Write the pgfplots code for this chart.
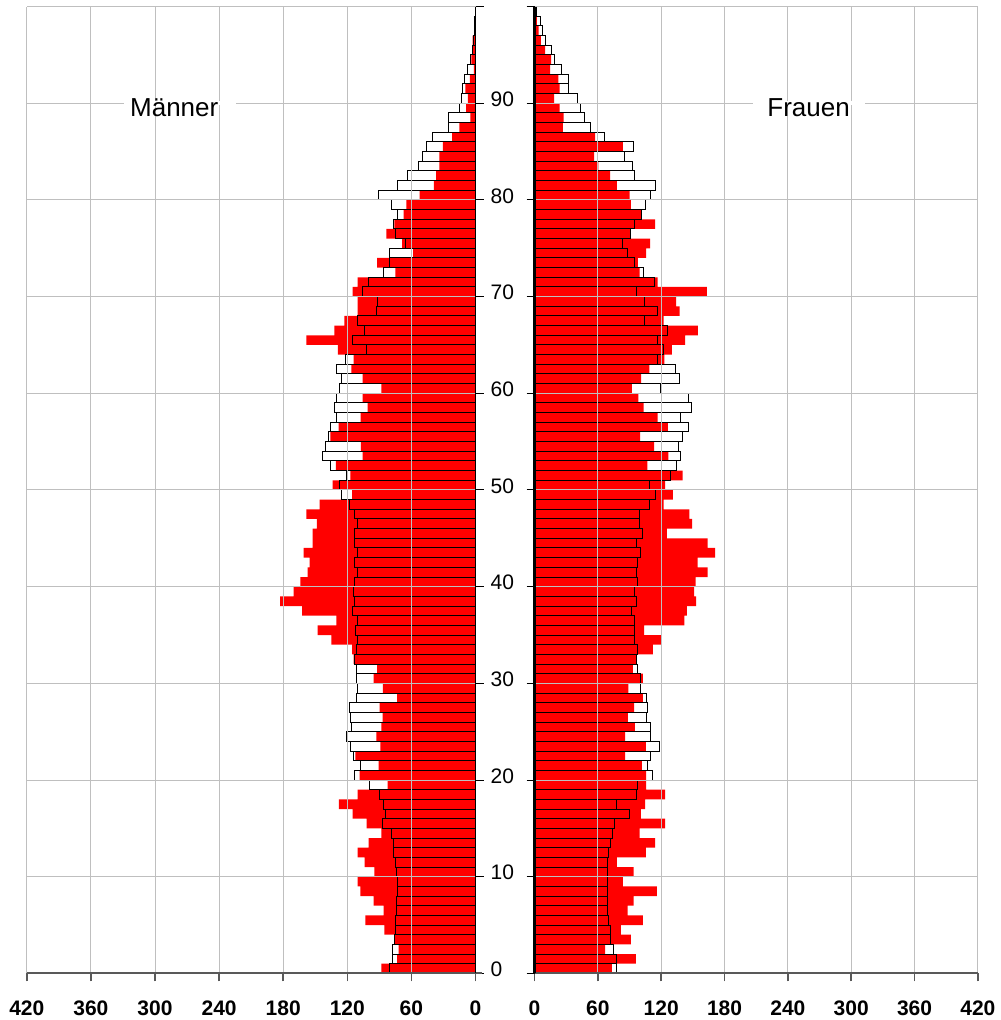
\documentclass[border=0pt]{standalone}
\usepackage{pgfplots}
\usepackage{pgfplotstable}
\pgfplotsset{compat=1.18}
\usepackage{fontspec}
\setmainfont{Liberation Sans}

% age, Maenner (outline, red), Frauen (outline, red)
\pgfplotstableread{
age mO mR wO wR
0 80.3 88 78 73.3
1 77.5 73.4 78 96
2 77.5 71.9 74.8 67
3 75.6 75.6 71.7 91.3
4 74.7 85.3 71.7 81.8
5 74.7 103 70.4 102.6
6 73.8 86 69.5 88.1
7 73.8 95.3 69.5 93.8
8 72.8 107.8 69.5 115.9
9 72.8 110.3 69.5 83.7
10 73.8 94.7 69.5 93.8
11 74.7 103.8 69.5 78
12 76.6 110.3 70.4 105.5
13 77.2 100 72.3 114.3
14 79 88 74.2 99.5
15 86.6 101.9 75.8 123.8
16 83.8 115 90 100.7
17 86 128 78 104.8
18 89.7 110.3 96.3 123.8
19 99 82.2 97.9 105.8
20 112.8 108.4 111.8 105.8
21 107.2 90.6 107.4 101.7
22 114 112.5 110.2 85.9
23 116.6 89 118.1 105.5
24 120.3 92.8 110.2 85.9
25 116 88 110.2 95
26 116.6 86.9 105.8 88.4
27 117.8 89.7 107 94.4
28 111.6 73.4 105.8 102.6
29 110.3 86.6 100.7 89
30 111.6 95.3 100.1 102.6
31 111.6 92.2 97.6 93.1
32 112.8 114 96.3 96.3
33 111.6 115.6 97.6 112
34 110 135 95 119.7
35 111.9 147.8 95 103.9
36 110.3 130.3 94.4 142
37 114.7 162.2 92.2 144.3
38 113.1 182.8 96.3 153.1
39 114 170.3 95 151.2
40 113.4 164 97.6 152.5
41 110.3 157.2 96.3 163.9
42 112.8 155.3 97.6 154.4
43 110 160.9 100.1 171.1
44 112.8 152.5 96.3 163.9
45 112.8 152.5 102.3 125.4
46 110 148.4 99.5 149.4
47 113.4 158.4 99.5 146.8
48 117.8 145.9 108.9 122.2
49 125.3 115.6 114.9 131
50 127.2 133.8 108.9 123.8
51 120.3 117.2 128.5 140.2
52 135.3 130.6 134.8 107
53 143.4 105.6 138 126.9
54 140 107.2 136.4 113.4
55 137.2 135.9 140.2 100.1
56 135.3 128.1 145.9 126.3
57 129.7 107.5 138 116.5
58 131.6 100.9 149 103.3
59 129.7 105.6 145.9 98.5
60 126.9 88.1 119.7 92.2
61 125.6 105.6 137 101
62 129.7 116.3 133.9 108.9
63 121.9 114.1 116.8 123.1
64 101.9 128.8 122.2 130.1
65 114.7 158.4 116.5 142.7
66 103.8 132.2 126 154.7
67 110.3 122.8 104.2 122.2
68 92.8 110.3 116.8 137.4
69 92.2 110.3 104.2 134.2
70 105.6 115 96.3 163.2
71 100 110.3 113.4 116.5
72 85.9 75 103.3 99.5
73 80.3 92.2 94.4 97.9
74 80.3 58.4 88.4 105.8
75 65.6 68.8 83.4 109.6
76 74.7 83.4 91.3 91.3
77 77.2 75.9 94.4 114.3
78 72.8 67.2 101.4 101.4
79 79 64.7 105.5 91.3
80 90.6 52.2 110.2 90
81 72.8 39 114.9 78
82 64.1 36.9 95 71.7
83 53.8 33.8 93.1 60.6
84 49.4 33.8 85.3 56.5
85 46.3 30.6 93.8 83.7
86 40.6 21.9 66.3 57.5
87 25 15 52.7 26.8
88 25 4.7 47 27.5
89 14.7 8.8 43.9 23.7
90 13.4 7.2 41 18.6
91 12.5 9.4 32.5 23.7
92 10 5.3 32.5 22.7
93 7.2 1.6 25.3 14.8
94 4.4 3.8 18.9 15.8
95 2.5 2.5 15.8 10.1
96 2 2.8 10.4 6
97 1 1 7.6 3.8
98 0.5 0.5 5.4 2.2
99 0.3 0.3 2.2 1.3
}\pyr

\begin{document}
\begin{tikzpicture}
\pgfplotsset{
  pyr/.style={
    scale only axis, height=483.4pt,
    ymin=0, ymax=100, ytick={0,10,...,100},
    grid=major, major grid style={draw=black!25, line width=0.5pt},
    axis on top, axis line style={draw=none},
    tick align=outside, major tick length=4pt,
    xtick pos=bottom,
    x tick style={draw=black!65, line width=0.8pt},
    y tick style={draw=black, line width=0.5pt},
    xticklabel style={font=\bfseries\fontsize{10.5}{12}\selectfont, yshift=-6pt},
    yticklabel style={font=\fontsize{10.5}{12}\selectfont, yshift=2pt},
  },
  bars/.style={xbar, bar width=1, bar shift=0pt},
}
\begin{axis}[pyr, name=L, width=224.35pt,
  xmin=-420, xmax=0, xtick={-420,-360,...,0},
  xticklabels={420,360,300,240,180,120,60,0},
  ytick pos=right, yticklabel pos=right,
  yticklabels={0,10,20,30,40,50,60,70,80,90,{}}]
\addplot[bars, fill=white, draw=black, line width=0.5pt]
  table[x expr=-\thisrow{mO}, y expr=\thisrow{age}+0.5]{\pyr};
\addplot[bars, fill=red, draw=none]
  table[x expr=-\thisrow{mR}, y expr=\thisrow{age}+0.5]{\pyr};
\addplot[bars, fill=none, draw=black, line width=0.5pt]
  table[x expr=-\thisrow{mO}, y expr=\thisrow{age}+0.5]{\pyr};
\coordinate (mt) at (axis cs:-282,88.6);
\coordinate (mg) at (axis cs:-277,90);
\end{axis}
\begin{axis}[pyr, name=R, at={(253.85pt,0pt)}, anchor=south west,
  width=221.7pt,
  xmin=0, xmax=420, xtick={0,60,...,420},
  xticklabels={0,60,120,180,240,300,360,420},
  ytick pos=left, yticklabels={}]
\addplot[bars, fill=white, draw=black, line width=0.5pt]
  table[x=wO, y expr=\thisrow{age}+0.5]{\pyr};
\addplot[bars, fill=red, draw=none]
  table[x=wR, y expr=\thisrow{age}+0.5]{\pyr};
\addplot[bars, fill=none, draw=black, line width=0.5pt]
  table[x=wO, y expr=\thisrow{age}+0.5]{\pyr};
\coordinate (ft) at (axis cs:259.6,88.6);
\coordinate (fg) at (axis cs:259.6,90);
\end{axis}
% axis lines
\draw[black!65, line width=1pt] (L.south west) -- ([xshift=3pt]L.south east);
\draw[black!65, line width=1pt] (R.south west) -- (R.south east);
\draw[black, line width=0.6pt] (L.south east) -- (L.north east);
\draw[black, line width=1.3pt] (R.south west) -- (R.north west);
% titles
\node[fill=white, inner sep=0pt, minimum width=56pt, minimum height=2pt] at (mg) {};
\node[fill=white, inner sep=0pt, minimum width=56pt, minimum height=2pt] at (fg) {};
\node[anchor=base, font=\fontsize{13}{15}\selectfont] at (mt) {Männer};
\node[anchor=base, font=\fontsize{13}{15}\selectfont] at (ft) {Frauen};
\pgfresetboundingbox
\path[use as bounding box] (-13.4pt,-23.3pt) rectangle (486.6pt,486.7pt);
\end{tikzpicture}
\end{document}
